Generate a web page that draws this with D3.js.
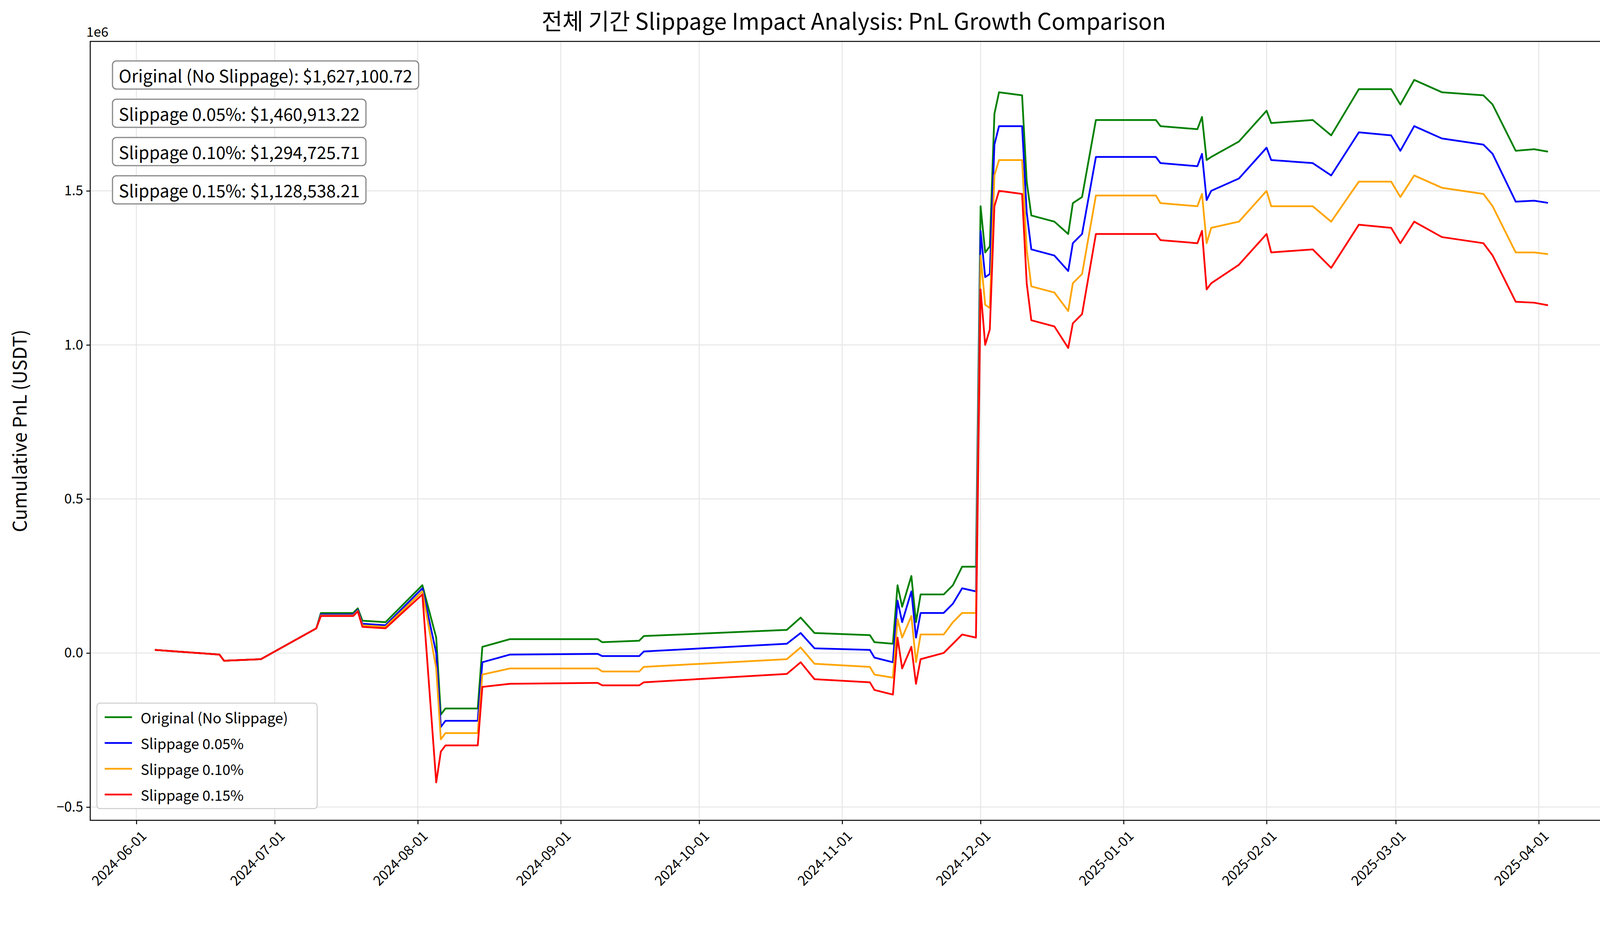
<!DOCTYPE html>
<html>
<head>
<meta charset="utf-8">
<script src="https://cdn.jsdelivr.net/npm/d3@7"></script>
<style>
  html, body { margin: 0; padding: 0; background: #fff; overflow: hidden; }
  svg { display: block; }
  text { font-family: "Noto Sans CJK KR", "Noto Sans", sans-serif; }
</style>
</head>
<body>
<svg id="chart" width="4169" height="2368"></svg>
<script>
// Data (values in millions of USDT)
const dates = ["2024-06-05","2024-06-19","2024-06-20","2024-06-28","2024-07-10","2024-07-11","2024-07-18","2024-07-19","2024-07-20","2024-07-25",
  "2024-08-02","2024-08-05","2024-08-06","2024-08-07","2024-08-14","2024-08-15","2024-08-21","2024-09-09","2024-09-10","2024-09-18",
  "2024-09-19","2024-10-20","2024-10-23","2024-10-26","2024-11-07","2024-11-08","2024-11-12","2024-11-13","2024-11-14","2024-11-16",
  "2024-11-17","2024-11-18","2024-11-23","2024-11-25","2024-11-27","2024-11-30","2024-12-01","2024-12-02","2024-12-03","2024-12-04",
  "2024-12-05","2024-12-10","2024-12-11","2024-12-12","2024-12-17","2024-12-20","2024-12-21","2024-12-23","2024-12-26","2025-01-08",
  "2025-01-09","2025-01-17","2025-01-18","2025-01-19","2025-01-20","2025-01-26","2025-02-01","2025-02-02","2025-02-11","2025-02-15",
  "2025-02-21","2025-02-28","2025-03-02","2025-03-05","2025-03-11","2025-03-20","2025-03-22","2025-03-27","2025-03-31","2025-04-03"];
const original = [.01,-.005,-.025,-.02,.08,.13,.13,.145,.105,.10,
  .22,.05,-.2,-.18,-.18,.02,.045,.045,.035,.04,
  .055,.075,.115,.065,.058,.035,.03,.22,.15,.25,
  .10,.19,.19,.22,.28,.28,1.45,1.3,1.32,1.75,
  1.82,1.81,1.53,1.42,1.40,1.36,1.46,1.48,1.73,1.73,
  1.71,1.70,1.74,1.60,1.61,1.66,1.76,1.72,1.73,1.68,
  1.83,1.83,1.78,1.86,1.82,1.81,1.78,1.63,1.635,1.6271];
const slip005 = [.01,-.005,-.025,-.02,.08,.125,.125,.14,.095,.09,
  .21,0,-.24,-.22,-.22,-.03,-.005,-.003,-.01,-.01,
  .005,.03,.065,.015,.01,-.015,-.03,.17,.1,.2,
  .05,.13,.13,.16,.21,.2,1.37,1.22,1.23,1.65,
  1.71,1.71,1.43,1.31,1.29,1.24,1.33,1.36,1.61,1.61,
  1.59,1.58,1.62,1.47,1.5,1.54,1.64,1.6,1.59,1.55,
  1.69,1.68,1.63,1.71,1.67,1.65,1.62,1.465,1.468,1.4609];
const slip010 = [.01,-.005,-.025,-.02,.08,.122,.122,.137,.09,.085,
  .2,-.05,-.28,-.26,-.26,-.07,-.05,-.05,-.06,-.06,
  -.045,-.02,.018,-.035,-.045,-.07,-.08,.11,.05,.12,
  -.03,.06,.06,.10,.13,.13,1.29,1.13,1.12,1.55,
  1.6,1.6,1.31,1.19,1.17,1.11,1.2,1.23,1.485,1.485,
  1.46,1.45,1.49,1.33,1.38,1.4,1.5,1.45,1.45,1.4,
  1.53,1.53,1.48,1.55,1.51,1.49,1.45,1.3,1.3,1.2947];
const slip015 = [.01,-.005,-.025,-.02,.08,.12,.12,.135,.085,.08,
  .19,-.42,-.32,-.30,-.30,-.11,-.10,-.097,-.105,-.105,
  -.095,-.068,-.03,-.085,-.095,-.12,-.135,.05,-.05,.02,
  -.10,-.02,0,.03,.06,.05,1.18,1.0,1.05,1.45,
  1.5,1.49,1.2,1.08,1.06,.99,1.07,1.1,1.36,1.36,
  1.34,1.33,1.37,1.18,1.2,1.26,1.36,1.3,1.31,1.25,
  1.39,1.38,1.33,1.4,1.35,1.33,1.29,1.14,1.137,1.1285];
const seriesNames = ["Original (No Slippage)","Slippage 0.05%","Slippage 0.10%","Slippage 0.15%"];
const seriesColors = ["green","blue","orange","red"];
const finalLabels = ["Original (No Slippage): $1,627,100.72","Slippage 0.05%: $1,460,913.22","Slippage 0.10%: $1,294,725.71","Slippage 0.15%: $1,128,538.21"];
const xTicks = ["2024-06-01","2024-07-01","2024-08-01","2024-09-01","2024-10-01","2024-11-01","2024-12-01","2025-01-01","2025-02-01","2025-03-01","2025-04-01"];
const yTicks = [-0.5,0,0.5,1.0,1.5];

const parse = d3.timeParse("%Y-%m-%d");
const margin = {left: 231, right: 29, top: 106, bottom: 268};
const W = 4169, H = 2368;
const svg = d3.select("#chart");
const g = svg.append("g");

const x = d3.scaleTime()
  .domain([parse("2024-05-22"), parse("2025-04-18")])
  .range([margin.left, W - margin.right]);
const y = d3.scaleLinear()
  .domain([-0.543, 1.985])
  .range([H - margin.bottom, margin.top]);

// grid
g.selectAll("line.vg").data(xTicks).join("line")
  .attr("x1", d => x(parse(d))).attr("x2", d => x(parse(d)))
  .attr("y1", margin.top).attr("y2", H - margin.bottom)
  .attr("stroke", "#e6e6e6").attr("stroke-width", 2.5);
g.selectAll("line.hg").data(yTicks).join("line")
  .attr("x1", margin.left).attr("x2", W - margin.right)
  .attr("y1", d => y(d)).attr("y2", d => y(d))
  .attr("stroke", "#e6e6e6").attr("stroke-width", 2.5);

// lines
const allSeries = [original, slip005, slip010, slip015];
const line = d3.line().x((d, i) => x(parse(dates[i]))).y(d => y(d));
allSeries.forEach((s, k) => {
  g.append("path").datum(s)
    .attr("fill", "none")
    .attr("stroke", seriesColors[k])
    .attr("stroke-width", 4.5)
    .attr("stroke-linejoin", "round")
    .attr("d", line);
});

// axes
const xAxis = g.append("g")
  .attr("transform", `translate(0,${H - margin.bottom})`)
  .call(d3.axisBottom(x).tickValues(xTicks.map(parse)).tickFormat(d3.timeFormat("%Y-%m-%d")).tickSize(10).tickPadding(8));
xAxis.selectAll("text")
  .attr("font-size", 35).attr("fill", "#000")
  .attr("text-anchor", "end")
  .attr("transform", "rotate(-45)")
  .attr("dx", "-0.3em").attr("dy", "0.9em");
const yAxis = g.append("g")
  .attr("transform", `translate(${margin.left},0)`)
  .call(d3.axisLeft(y).tickValues(yTicks).tickFormat(d3.format(".1f")).tickSize(10).tickPadding(8));
yAxis.selectAll("text").attr("font-size", 35).attr("fill", "#000");
[xAxis, yAxis].forEach(a => {
  a.select(".domain").remove();
  a.selectAll("line").attr("stroke", "#000").attr("stroke-width", 2.5);
});

// frame
g.append("rect")
  .attr("x", margin.left).attr("y", margin.top)
  .attr("width", W - margin.left - margin.right)
  .attr("height", H - margin.top - margin.bottom)
  .attr("fill", "none").attr("stroke", "#000").attr("stroke-width", 2.5);

// texts
svg.append("text").attr("x", margin.left - 10).attr("y", 94)
  .attr("font-size", 34).text("1e6");
svg.append("text").attr("x", (margin.left + W - margin.right) / 2).attr("y", 76)
  .attr("text-anchor", "middle").attr("font-size", 58).text("전체 기간 Slippage Impact Analysis: PnL Growth Comparison");
svg.append("text")
  .attr("transform", `translate(68,${(margin.top + H - margin.bottom) / 2}) rotate(-90)`)
  .attr("text-anchor", "middle").attr("font-size", 48).text("Cumulative PnL (USDT)");

// annotation boxes
finalLabels.forEach((t, i) => {
  const cy = 192 + i * 98;
  const box = svg.append("g");
  const rect = box.append("rect");
  const txt = box.append("text").attr("x", 304).attr("y", cy)
    .attr("dominant-baseline", "central").attr("font-size", 44).text(t);
  const bb = txt.node().getBBox();
  rect.attr("x", bb.x - 16).attr("y", cy - 36)
    .attr("width", bb.width + 32).attr("height", 72)
    .attr("rx", 10).attr("fill", "#fff").attr("stroke", "#888").attr("stroke-width", 3);
});

// legend
const lg = svg.append("g").attr("transform", "translate(248,1800)");
lg.append("rect").attr("width", 564).attr("height", 270).attr("rx", 8)
  .attr("fill", "#fff").attr("stroke", "#ccc").attr("stroke-width", 2.5);
seriesNames.forEach((n, i) => {
  const cy = 36 + i * 66;
  lg.append("line").attr("x1", 20).attr("x2", 90).attr("y1", cy).attr("y2", cy)
    .attr("stroke", seriesColors[i]).attr("stroke-width", 4.5);
  lg.append("text").attr("x", 112).attr("y", cy).attr("dominant-baseline", "central")
    .attr("font-size", 37).text(n);
});
</script>
</body>
</html>
